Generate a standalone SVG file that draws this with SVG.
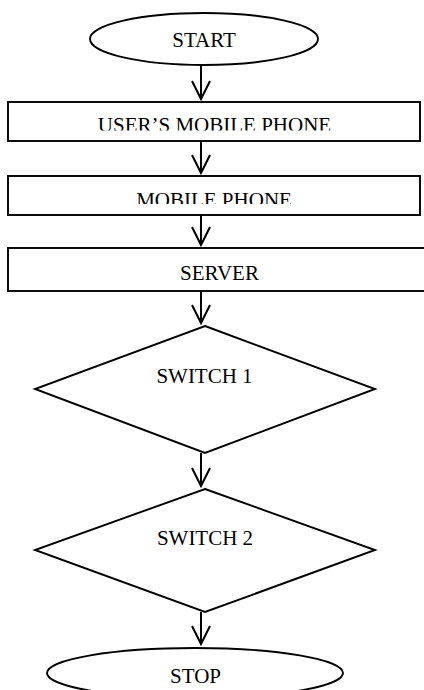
<svg xmlns="http://www.w3.org/2000/svg" width="424" height="690" viewBox="0 0 424 690">
<defs>
<style>
.s{fill:#fff;stroke:#000;stroke-width:1.9}
.t{font-family:"Liberation Serif","Times New Roman",serif;font-size:21px;fill:#000;text-anchor:middle}
.c{fill:none;stroke:#000;stroke-width:2}
</style>
<clipPath id="c1"><rect x="8" y="102" width="412" height="28.5"/></clipPath>
<clipPath id="c2"><rect x="8" y="176" width="412" height="28"/></clipPath>
</defs>
<rect width="424" height="690" fill="#fff"/>
<g id="start">
<ellipse class="s" cx="204" cy="39" rx="114" ry="26"/>
<text class="t" x="204" y="47">START</text>
</g>
<g id="users-mobile-phone">
<rect class="s" x="8" y="102" width="412" height="39"/>
<text class="t" x="214.5" y="132" clip-path="url(#c1)">USER’S MOBILE PHONE</text>
</g>
<g id="mobile-phone">
<rect class="s" x="8" y="176" width="412" height="39"/>
<text class="t" x="214" y="206.5" clip-path="url(#c2)">MOBILE PHONE</text>
</g>
<g id="server">
<rect class="s" x="8" y="248" width="420" height="43"/>
<text class="t" x="219.5" y="280">SERVER</text>
</g>
<g id="switch1">
<polygon class="s" points="205,326 375,389 205,453 35,389"/>
<text class="t" x="204.5" y="383">SWITCH 1</text>
</g>
<g id="switch2">
<polygon class="s" points="205,489 375,550 205,612 35,550"/>
<text class="t" x="205" y="545">SWITCH 2</text>
</g>
<g id="stop">
<ellipse class="s" cx="195" cy="673" rx="148" ry="25"/>
<text class="t" x="195.5" y="683">STOP</text>
</g>
<g id="connectors">
<path class="c" d="M201,65V99M192,81L201,99L210,81"/>
<path class="c" d="M201,141V173M192,155L201,173L210,155"/>
<path class="c" d="M201,215V245M192,227L201,245L210,227"/>
<path class="c" d="M201,291V323M192,305L201,323L210,305"/>
<path class="c" d="M201,453V486M192,468L201,486L210,468"/>
<path class="c" d="M201,612V644M192,626L201,644L210,626"/>
</g>
</svg>
